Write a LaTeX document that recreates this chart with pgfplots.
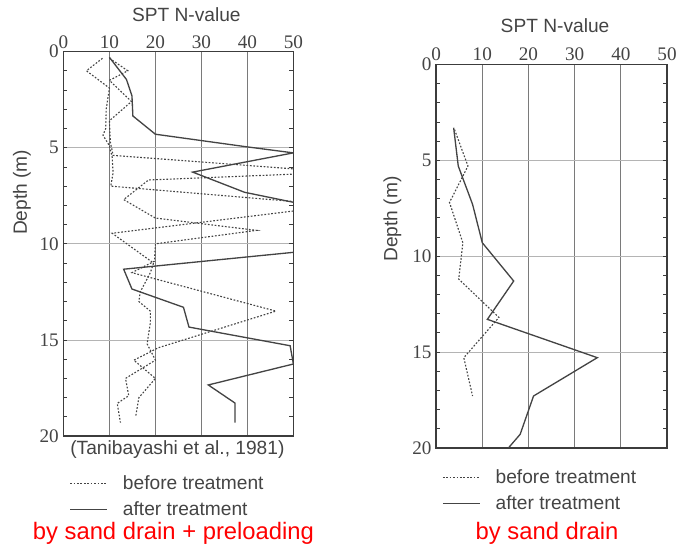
\documentclass[border=0pt]{standalone}
\usepackage{fontspec}
\setmainfont{Liberation Sans}
\newfontfamily\serifnum{Liberation Serif}
\usepackage{pgfplots}
\pgfplotsset{compat=1.18}

\definecolor{ink}{HTML}{444444}
\definecolor{frame}{HTML}{3C3C3C}
\definecolor{vgrid}{HTML}{7A7A7A}
\definecolor{hgrid}{HTML}{B4B4B4}
\definecolor{capred}{HTML}{FF0000}

\pgfplotsset{
  sptaxis/.style={
    scale only axis, anchor=south west,
    xmin=0, xmax=50, ymin=0, ymax=20, y dir=reverse,
    xtick={0,10,...,50}, ytick={0,5,...,20},
    xticklabel pos=top,
    minor y tick num=4,
    tick align=inside,
    xtick style={draw=none},
    ytick style={draw=frame, line width=0.6pt},
    major tick length=3pt, minor tick length=3pt,
    xmajorgrids, ymajorgrids,
    x grid style={vgrid, line width=0.8pt},
    y grid style={hgrid, line width=0.6pt},
    axis line style={frame, line width=1.2pt},
    /pgf/number format/assume math mode=true,
    tick label style={font=\serifnum\fontsize{14.5}{14.5}\selectfont, text=ink},
    xticklabel style={yshift=-1pt},
    legend style={draw=none, fill=none, font=\fontsize{14.5}{16}\selectfont,
      text=ink, row sep=3.5pt, inner sep=0pt},
    legend cell align=left,
    legend image code/.code={\draw[##1] (0pt,0pt) -- (28pt,0pt);
      \path[draw=none] (0pt,-3.5pt) -- (38pt,-3.5pt);},
  },
  before/.style={ink, line width=0.85pt, dash pattern=on 1.3pt off 1.3pt},
  after/.style={ink, line width=1pt},
}

\begin{document}
\begin{tikzpicture}
\path (0pt,0pt) rectangle (510.75pt,-415.5pt);

% left: sand drain + preloading
\begin{axis}[sptaxis, at={(48pt,-330pt)}, width=174pt, height=291pt,
  legend style={at={(axis description cs:0.025,-0.095)}, anchor=north west}]
\addplot[before] coordinates {
  (8.5,0.35) (5,1.0) (10,1.9) (9.3,3.0) (9.2,4.0) (8.6,4.35) (10,4.9)
  (10.6,5.5) (10.8,6.3) (10.3,7.0) (60,8.0) (10.6,9.45) (19.6,11.0)
  (18.9,11.5) (16.7,12.5) (16.4,13.0) (18.9,13.5) (18.9,14.1) (18.2,15.2)
  (20,16.05) (13.5,17.0) (14.2,17.9) (11.7,18.3) (12.4,19.3)
};
\addlegendentry{before treatment}
\addplot[after] coordinates {
  (10,0.3) (13.7,1.45) (14.9,2.3) (15.1,3.35) (20,4.3) (39.7,4.95)
  (50,5.27) (28.1,6.27) (39.4,7.32) (50,7.84) (56,8.3) (56,10.3)
  (13.1,11.32) (14.9,12.35) (26.1,13.3) (27.3,14.33) (49.3,15.3)
  (50,16.25) (31.5,17.34) (37.3,18.28) (37.3,19.3)
};
\addlegendentry{after treatment}
\addplot[before, forget plot] coordinates {
  (10,0.35) (14,1.0) (10,1.5) (14.8,2.6) (10,3.6) (10.2,4.7) (10.8,5.4)
  (60,6.28) (18.5,6.68) (13.1,7.7) (20,8.66) (42,9.3) (20,10.0)
  (19.8,10.9) (14.9,11.5) (46.2,13.5) (20.7,15.4) (15.3,16.05)
  (20,17.0) (16.4,18.0) (15.7,19.0)
};
\end{axis}

% right: sand drain
\begin{axis}[sptaxis, at={(330pt,-338.8pt)}, width=174.75pt, height=290pt,
  legend style={at={(axis description cs:0.025,-0.05)}, anchor=north west}]
\addplot[before] coordinates {
  (4,3.4) (6.9,5.3) (2.9,7.2) (5.8,9.3) (4.9,11.2) (13.6,13.2)
  (6.0,15.3) (7.9,17.3)
};
\addlegendentry{before treatment}
\addplot[after] coordinates {
  (3.8,3.3) (4.8,5.3) (7.9,7.3) (10,9.3) (16.8,11.3) (11.1,13.3)
  (34.9,15.3) (21.1,17.3) (18.2,19.3) (15.7,20)
};
\addlegendentry{after treatment}
\end{axis}

\begin{scope}[every node/.style={text=ink, font=\fontsize{14.5}{16}\selectfont}]
\node at (141pt,-10.9pt) {SPT N-value};
\node at (420pt,-19.5pt) {SPT N-value};
\node[rotate=90] at (16.5pt,-145.5pt) {Depth (m)};
\node[rotate=90] at (297pt,-165.75pt) {Depth (m)};
\node at (134.25pt,-340.5pt) {(Tanibayashi et al., 1981)};
\end{scope}
\node[text=capred, font=\fontsize{18}{20}\selectfont] at (131.25pt,-403.5pt) {by sand drain + preloading};
\node[text=capred, font=\fontsize{18}{20}\selectfont] at (414pt,-403.5pt) {by sand drain};
\end{tikzpicture}
\end{document}
